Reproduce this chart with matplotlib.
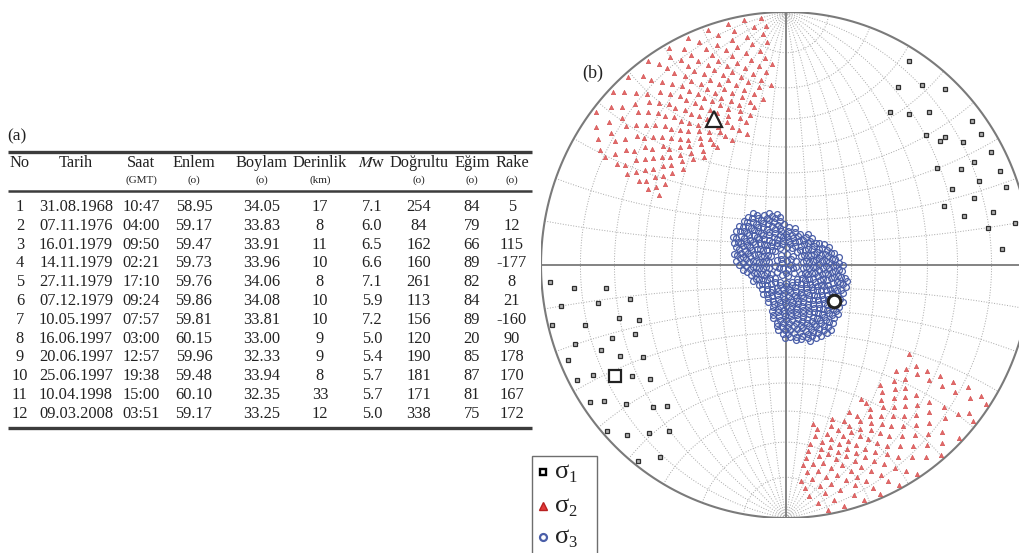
import numpy as np
import matplotlib.pyplot as plt
from matplotlib.patches import Rectangle

plt.rcParams['font.family'] = ['Liberation Serif', 'DejaVu Serif']
plt.rcParams['mathtext.fontset'] = 'stix'

# ---- (a) deprem listesi ----
no = list(range(1, 13))
tarih = ['31.08.1968', '07.11.1976', '16.01.1979', '14.11.1979', '27.11.1979', '07.12.1979',
         '10.05.1997', '16.06.1997', '20.06.1997', '25.06.1997', '10.04.1998', '09.03.2008']
saat = ['10:47', '04:00', '09:50', '02:21', '17:10', '09:24',
        '07:57', '03:00', '12:57', '19:38', '15:00', '03:51']
enlem = ['58.95', '59.17', '59.47', '59.73', '59.76', '59.86',
         '59.81', '60.15', '59.96', '59.48', '60.10', '59.17']
boylam = ['34.05', '33.83', '33.91', '33.96', '34.06', '34.08',
          '33.81', '33.00', '32.33', '33.94', '32.35', '33.25']
derinlik = [17, 8, 11, 10, 8, 10, 10, 9, 9, 8, 33, 12]
mw = ['7.1', '6.0', '6.5', '6.6', '7.1', '5.9', '7.2', '5.0', '5.4', '5.7', '5.7', '5.0']
dogrultu = [254, 84, 162, 160, 261, 113, 156, 120, 190, 181, 171, 338]
egim = [84, 79, 66, 89, 82, 84, 89, 20, 85, 87, 81, 75]
rake = [5, 12, 115, -177, 8, 21, -160, 90, 178, 170, 167, 172]

# ---- (b) gerilme eksenleri (trend, plunge) ----
sigma1 = [(32, 3), (33, 10), (38, 6), (43, 3), (35, 17), (40, 14), (44, 10), (53, 3),
          (57, 3), (48, 15), (52, 13), (52, 11), (56, 8), (62, 3), (62, 8), (58, 18),
          (62, 12), (67, 3), (67, 9), (71, 3), (66, 17), (71, 12), (70, 21), (76, 8),
          (75, 16), (80, 3), (80, 10), (86, 7),
          (266, 2), (264, 8), (263, 17), (260, 4), (259, 14), (258, 24), (256, 1), (254, 9),
          (253, 19), (250, 25), (250, 5), (248, 15), (246, 22), (247, 2), (246, 11), (242, 15),
          (238, 21), (242, 2), (241, 6), (235, 15), (231, 19), (236, 2), (234, 5), (230, 9),
          (224, 14), (221, 17), (228, 1), (224, 4), (220, 8), (216, 12), (218, 1), (214, 5)]

# rows of equal plunge: (plunge, [trends])
sigma2_rows = [
    (1, [308, 314, 319, 325, 331, 336, 341, 346, 350, 354]),
    (3, [305, 311, 316, 322, 327, 330, 334, 338, 343, 347, 352, 355]),
    (5, [303, 308, 313, 318, 323, 328, 332, 335, 339, 342, 346, 350, 354]),
    (7, [301, 306, 311, 316, 320, 325, 329, 333, 336, 340, 344, 347, 351, 355]),
    (9, [300, 305, 310, 315, 319, 323, 327, 331, 334, 338, 341, 345, 349, 353]),
    (11, [302, 307, 312, 317, 321, 325, 329, 332, 336, 339, 343, 346, 350, 354]),
    (13, [300, 305, 310, 314, 319, 323, 327, 330, 334, 337, 341, 344, 348, 352, 356]),
    (15, [301, 306, 311, 316, 320, 324, 328, 332, 335, 339, 342, 346, 350, 354]),
    (17, [299, 304, 309, 313, 318, 322, 326, 330, 333, 337, 340, 344, 348, 352]),
    (19, [301, 306, 310, 315, 319, 323, 327, 331, 335, 338, 342, 346, 351, 355]),
    (21, [299, 303, 308, 313, 317, 321, 325, 329, 333, 337, 341, 345, 349]),
    (23, [300, 305, 310, 314, 319, 323, 327, 331, 335, 339, 343, 347, 352]),
    (25, [298, 303, 308, 312, 317, 321, 326, 330, 334, 338, 343, 348]),
    (27, [300, 305, 310, 315, 320, 325, 329, 333, 337, 342, 346]),
    (29, [298, 303, 308, 314, 319, 324, 328, 333, 338, 344]),
    (31, [312, 318, 323, 328, 334, 340]),
    (33, [322, 329, 336, 343]),
    (1, [124, 129, 134, 140, 147, 152, 157, 161, 166, 170]),
    (3, [123, 128, 138, 143, 149, 154, 158, 163, 168, 172]),
    (5, [125, 130, 136, 141, 146, 151, 155, 159, 162, 166, 170, 174]),
    (7, [123, 133, 139, 144, 149, 153, 157, 161, 164, 168, 171, 175]),
    (9, [126, 131, 137, 142, 147, 151, 155, 159, 162, 166, 169, 173, 176]),
    (11, [124, 135, 140, 145, 150, 154, 157, 160, 164, 167, 171, 174]),
    (13, [127, 133, 138, 143, 148, 152, 156, 159, 162, 165, 169, 172, 175]),
    (15, [125, 136, 141, 146, 150, 154, 158, 161, 164, 167, 170, 174]),
    (17, [128, 134, 139, 144, 148, 152, 156, 160, 163, 166, 169, 173]),
    (19, [126, 137, 142, 147, 151, 155, 158, 161, 165, 168, 172]),
    (21, [129, 135, 140, 145, 150, 154, 158, 162, 166, 170]),
    (23, [127, 133, 138, 144, 149, 154, 159, 164, 169]),
    (25, [130, 136, 142, 149, 156, 163, 170]),
    (27, [125, 133, 141, 150]),
]

sigma3_rows = [
    (88, [15, 85, 150, 220, 290]),
    (86.5, [40, 110, 180, 250, 320]),
    (85, [5, 38, 70, 103, 135, 168, 200, 233, 265, 298, 330]),
    (82, [2, 21, 41, 59, 80, 101, 119, 140, 161, 179, 200, 222, 239, 260, 281, 299, 320, 341]),
    (80.5, [10, 27, 44, 61, 78, 95, 112, 129, 146, 163, 180, 197, 214, 231, 248, 265, 282,
            299, 316, 333, 350]),
    (79, [7, 22, 38, 52, 67, 83, 97, 112, 128, 142, 157, 173, 187, 202, 218, 232, 247, 263,
          277, 292, 308, 322, 337, 353]),
    (77.5, [3, 16, 29, 42, 55, 68, 81, 94, 107, 120, 133, 146, 159, 172, 185, 198, 211, 224,
            237, 250, 263, 276, 289, 302, 315, 328, 341, 354]),
    (76, [0, 12, 23, 35, 46, 58, 70, 81, 93, 104, 116, 128, 139, 151, 162, 174, 186, 197, 209,
          220, 232, 244, 255, 267, 278, 290, 302, 313, 325, 336, 348]),
    (74.5, [4, 15, 25, 36, 46, 57, 67, 78, 88, 99, 109, 120, 130, 141, 151, 162, 172, 183, 193,
            204, 214, 225, 235, 246, 256, 267, 277, 288, 298, 309, 319, 330, 340, 351]),
    (73, [5, 14, 36, 45, 55, 65, 74, 84, 94, 103, 113, 123, 132, 142, 152, 161, 171, 181, 190,
          200, 210, 219, 245, 255, 264, 274, 284, 293, 303, 313, 322, 332, 342, 351]),
    (71.5, [57, 66, 75, 84, 92, 101, 110, 119, 128, 136, 145, 154, 163, 172, 180, 189, 198, 207,
            260, 269, 278, 287, 296, 304, 313, 322, 331, 340, 349, 357]),
    (70, [62, 70, 78, 86, 94, 102, 110, 118, 126, 134, 142, 150, 158, 166, 174, 182, 190, 198,
          264, 272, 280, 288, 296, 304, 312, 320, 328, 336, 344, 352]),
    (68.5, [68, 76, 83, 91, 98, 106, 114, 121, 129, 136, 144, 152, 159, 167, 174, 182, 190, 197,
            270, 278, 285, 293, 300, 308, 316, 323, 331, 338, 346, 353]),
    (67, [76, 83, 90, 97, 104, 111, 118, 125, 132, 139, 146, 153, 160, 167, 174, 181, 188, 195,
          274, 281, 288, 295, 302, 309, 316, 323, 330, 337, 344, 350]),
    (65.5, [82, 88, 95, 102, 108, 115, 121, 128, 134, 141, 148, 154, 161, 167, 174, 180, 187,
            194, 282, 289, 295, 302, 308, 315, 321, 328, 335, 341]),
    (64, [90, 96, 102, 108, 115, 121, 127, 133, 139, 146, 152, 158, 164, 170, 177, 183, 189,
          292, 298, 305, 311, 317, 323, 329]),
    (62.5, [102, 108, 114, 120, 125, 131, 137, 143, 149, 154, 160, 166, 172, 178, 184, 189,
            297, 303, 309, 315, 321, 327]),
    (61, [104, 110, 115, 121, 126, 132, 137, 143, 148, 154, 159, 165, 170, 176, 181, 187]),
    (59.5, [122, 127, 132, 137, 143, 148, 153, 158, 163, 168, 173, 178, 183]),
    (58, [132, 137, 142, 147, 152, 157, 162, 167, 172, 177, 181]),
    (56.5, [140, 145, 149, 154, 159, 163, 168, 172]),
    (55, [144, 148, 153, 157, 162]),
]

sigma1_mean = (238, 11)
sigma2_mean = (333, 24)
sigma3_mean = (126, 63)


def project(trend, plunge):
    # Wulff (equal-angle) lower hemisphere
    t = np.radians(trend)
    r = np.tan(np.radians(90 - np.asarray(plunge, float)) / 2)
    return r * np.sin(t), r * np.cos(t)


def rows_to_arrays(rows):
    tr, pl = [], []
    for p, trends in rows:
        tr += trends
        pl += [p] * len(trends)
    return np.array(tr), np.array(pl)


fig = plt.figure(figsize=(10.2, 5.53), dpi=100)

# page layer for the table and legend, in pixel units
page = fig.add_axes([0, 0, 1, 1])
page.set_xlim(0, 1020)
page.set_ylim(553, 0)
page.axis('off')

tc = '#222222'
page.text(17, 136, '(a)', fontsize=12.5, ha='center', va='center', color=tc)

cols_x = [20, 76, 141, 194, 262, 320, 372, 419, 472, 512]
heads = ['No', 'Tarih', 'Saat', 'Enlem', 'Boylam', 'Derinlik', r'$\mathit{M}$w',
         'Doğrultu', 'Eğim', 'Rake']
units = ['', '', '(GMT)', '(o)', '(o)', '(km)', '', '(o)', '(o)', '(o)']
for x, h, u in zip(cols_x, heads, units):
    page.text(x, 163, h, fontsize=11.8, ha='center', va='center', color=tc)
    if u:
        page.text(x, 180, u, fontsize=8, ha='center', va='center', color=tc)

for i in range(12):
    y = 207 + i * 18.8
    vals = [no[i], tarih[i], saat[i], enlem[i], boylam[i], derinlik[i], mw[i],
            dogrultu[i], egim[i], rake[i]]
    for x, v in zip(cols_x, vals):
        page.text(x, y, str(v), fontsize=11.8, ha='center', va='center', color=tc)

for y, lw in [(152, 2.4), (191, 1.8), (428, 2.4)]:
    page.plot([8, 532], [y, y], color='#3c3c3c', lw=lw, solid_capstyle='butt')

# legend box
page.add_patch(Rectangle((532, 456), 65, 120, facecolor='white', edgecolor='#6e6e6e', lw=1.0))
page.plot([543], [472], ls='none', marker='s', ms=4.8, mfc='white', mec='black', mew=1.7)
page.plot([543], [506], ls='none', marker='^', ms=6, mfc='#e23a3a', mec='#b82020', mew=1.0)
page.plot([543], [537], ls='none', marker='o', ms=5, mfc='white', mec='#4a5ea8', mew=1.6)
for y, k in [(472, '1'), (506, '2'), (537, '3')]:
    page.text(555, y, 'σ', fontsize=19, ha='left', va='center', color='#222222')
    page.text(568, y + 6, k, fontsize=12, ha='left', va='center', color='#222222')

page.text(593, 73, '(b)', fontsize=13, ha='center', va='center', color=tc)

# ---- stereonet ----
net = fig.add_axes([541 / 1020, 35 / 553, 490 / 1020, 506 / 553])
net.set_xlim(-1, 1)
net.set_ylim(-1, 1)
net.axis('off')

gc = '#a8a8a8'
t = np.radians(np.linspace(-90, 90, 181))
for a in range(-80, 90, 10):
    if a == 0:
        continue
    ar = np.radians(a)
    # great circles through N and S
    e = np.cos(t) * np.sin(ar)
    n = np.sin(t)
    d = np.cos(t) * np.cos(ar)
    net.plot(e / (1 + d), n / (1 + d), color=gc, lw=0.7, ls=(0, (1, 1.7)))
    # small circles about the N-S axis
    e = np.cos(ar) * np.sin(t)
    n = np.full_like(t, np.sin(ar))
    d = np.cos(ar) * np.cos(t)
    net.plot(e / (1 + d), n / (1 + d), color=gc, lw=0.7, ls=(0, (1, 1.7)))

th = np.linspace(0, 2 * np.pi, 500)
net.plot(np.cos(th), np.sin(th), color='#7a7a7a', lw=1.5)
net.plot([-1, 1], [0, 0], color='#7a7a7a', lw=1.3)
net.plot([0, 0], [-1, 1], color='#7a7a7a', lw=1.3)

x1, y1 = project([s[0] for s in sigma1], [s[1] for s in sigma1])
net.plot(x1, y1, ls='none', marker='s', ms=3.3, mfc='#b0b0b0', mec='#2e2e2e', mew=0.9, zorder=3)

t2, p2 = rows_to_arrays(sigma2_rows)
x2, y2 = project(t2, p2)
net.plot(x2, y2, ls='none', marker='^', ms=3.2, mfc='#e26a6a', mec='#d24848', mew=0.4, zorder=3)

t3, p3 = rows_to_arrays(sigma3_rows)
x3, y3 = project(t3, p3)
net.plot(x3, y3, ls='none', marker='o', ms=4.2, mfc='none', mec='#4a5ea8', mew=0.9, zorder=3)

mx, my = project(*sigma1_mean)
net.plot(mx, my, ls='none', marker='s', ms=9, mfc='white', mec='#222222', mew=1.6, zorder=5)
mx, my = project(*sigma2_mean)
net.plot(mx, my, ls='none', marker='^', ms=11, mfc='white', mec='#222222', mew=1.6, zorder=5)
mx, my = project(*sigma3_mean)
net.plot(mx, my, ls='none', marker='o', ms=9, mfc='white', mec='#222222', mew=2.2, zorder=5)

fig.savefig('out.png', dpi=100)
